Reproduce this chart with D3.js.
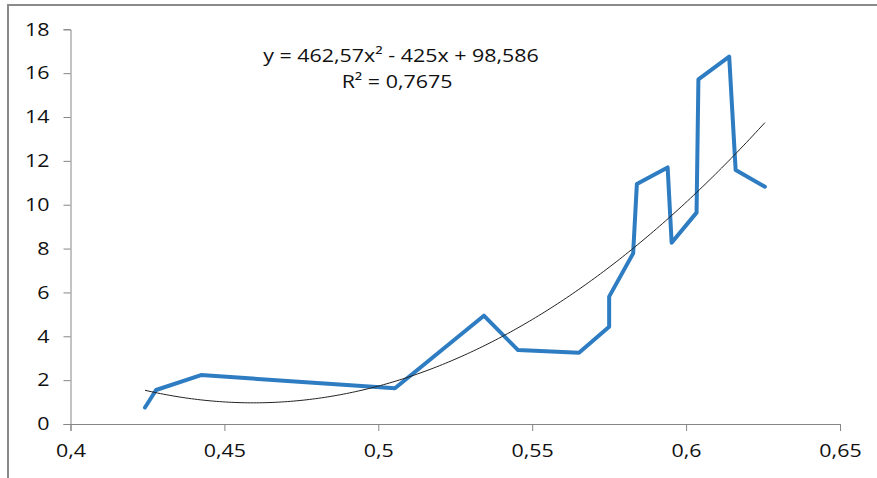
<!DOCTYPE html>
<html>
<head>
<meta charset="utf-8">
<script src="https://cdn.jsdelivr.net/npm/d3@7"></script>
<style>
  html, body { margin: 0; padding: 0; background: #fff; overflow: hidden; }
  text { font-family: "Open Sans", "Noto Sans", sans-serif; fill: #111; }
</style>
</head>
<body>
<svg id="chart" width="877" height="478"></svg>
<script>
// ---- data ----
const xValues = [0.4242, 0.4278, 0.4424, 0.5054, 0.5343, 0.5454, 0.5652, 0.5750, 0.5750,
                 0.5828, 0.5840, 0.5940, 0.5953, 0.6034, 0.6040, 0.6140, 0.6161, 0.6256];
const yValues = [0.75, 1.55, 2.23, 1.63, 4.94, 3.37, 3.25, 4.44, 5.81,
                 7.78, 10.94, 11.70, 8.27, 9.64, 15.72, 16.75, 11.58, 10.82];
const xTicks = [0.4, 0.45, 0.5, 0.55, 0.6, 0.65];
const yTicks = [0, 2, 4, 6, 8, 10, 12, 14, 16, 18];
const trendCoef = [462.57, -425, 98.586];   // a, b, c of y = a x^2 + b x + c
const trendLabel = ["y = 462,57x\u00B2 - 425x + 98,586", "R\u00B2 = 0,7675"];

// ---- layout ----
const svg = d3.select("#chart");
const x = d3.scaleLinear().domain([0.4, 0.65]).range([70.5, 840]);
const y = d3.scaleLinear().domain([0, 18]).range([424, 29.3]);
const fmt = d => String(d).replace(".", ",");
const SX = 1.19;
const FS = "18px";

// frame
svg.append("rect").attr("x", 8).attr("y", 5).attr("width", 900).attr("height", 500)
  .attr("fill", "none").attr("stroke", "#8a8a8a").attr("stroke-width", 2);

// axes
const axisColor = "#868686";
const yAxis = svg.append("g").attr("transform", `translate(${x(0.4)},0)`)
  .call(d3.axisLeft(y).tickValues(yTicks).tickSize(7).tickPadding(14).tickFormat(fmt));
const xAxis = svg.append("g").attr("transform", `translate(0,${y(0)})`)
  .call(d3.axisBottom(x).tickValues(xTicks).tickSize(7).tickPadding(13).tickFormat(fmt));
[xAxis, yAxis].forEach(g => {
  g.select(".domain").attr("stroke", axisColor).attr("stroke-width", 1);
  g.selectAll(".tick line").attr("stroke", axisColor).attr("stroke-width", 1);
  g.selectAll("text").style("font-size", FS).style("font-family", "'Open Sans', sans-serif")
    .attr("fill", "#111");
});
// horizontal stretch of tick labels to match reference
yAxis.selectAll(".tick text").each(function() {
  const t = d3.select(this);
  const tx = +t.attr("x");
  t.attr("x", 0).attr("transform", `translate(${tx},0) scale(${SX},1)`);
});
xAxis.selectAll(".tick text").each(function() {
  const t = d3.select(this);
  const ty = +t.attr("y");
  t.attr("y", 0).attr("transform", `translate(0,${ty}) scale(${SX},1)`);
});

// data line
const data = xValues.map((v, i) => [v, yValues[i]]);
svg.append("path").datum(data)
  .attr("fill", "none").attr("stroke", "#2e7cc1").attr("stroke-width", 4)
  .attr("stroke-linejoin", "round").attr("stroke-linecap", "round")
  .attr("d", d3.line().x(d => x(d[0])).y(d => y(d[1])));

// polynomial trendline
const [a, b, c] = trendCoef;
const x0 = d3.min(xValues), x1 = d3.max(xValues);
const trend = d3.range(0, 201).map(i => {
  const xv = x0 + (x1 - x0) * i / 200;
  return [xv, a * xv * xv + b * xv + c];
});
svg.append("path").datum(trend)
  .attr("fill", "none").attr("stroke", "#222").attr("stroke-width", 1)
  .attr("d", d3.line().x(d => x(d[0])).y(d => y(d[1])));

// equation label
const labelPos = [[401, 62], [397, 88]];
trendLabel.forEach((s, i) => {
  svg.append("text")
    .attr("transform", `translate(${labelPos[i][0]},${labelPos[i][1]}) scale(${SX},1)`)
    .attr("text-anchor", "middle").style("font-size", FS).text(s);
});
</script>
</body>
</html>
